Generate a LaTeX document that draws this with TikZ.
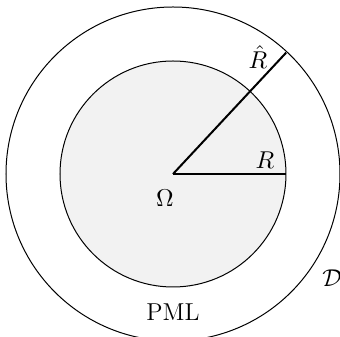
\documentclass[tikz,border=0pt]{standalone}
\begin{document}
\begin{tikzpicture}[x=0.45pt,y=0.45pt,
  circ/.style={draw=black,line width=0.45pt},
  radius line/.style={draw=black,line width=0.9pt},
  lbl/.style={inner sep=0pt,font=\fontsize{11}{13}\selectfont}]
\useasboundingbox (-173,-163) rectangle (167,174);
\clip (-173,-163) rectangle (167,174);
\coordinate (O) at (0,0);
\draw[circ] (O) circle[radius=167];
\draw[circ,fill=black!5] (O) circle[radius=113];
\coordinate (Rend) at (113,0);
\coordinate (Rhend) at (47:166);
\draw[radius line] (O) -- (Rend);
\draw[radius line] (O) -- (Rhend);
\node[lbl] (Rl) at (92,14) {$R$};
\node[lbl] (Rhl) at (85,117) {$\hat{R}$};
\node[lbl] (Om) at (-8,-24) {$\Omega$};
\node[lbl] (pml) at (0,-138) {PML};
\node[lbl] (D) at (159,-104) {$\mathcal{D}$};
\end{tikzpicture}
\end{document}
